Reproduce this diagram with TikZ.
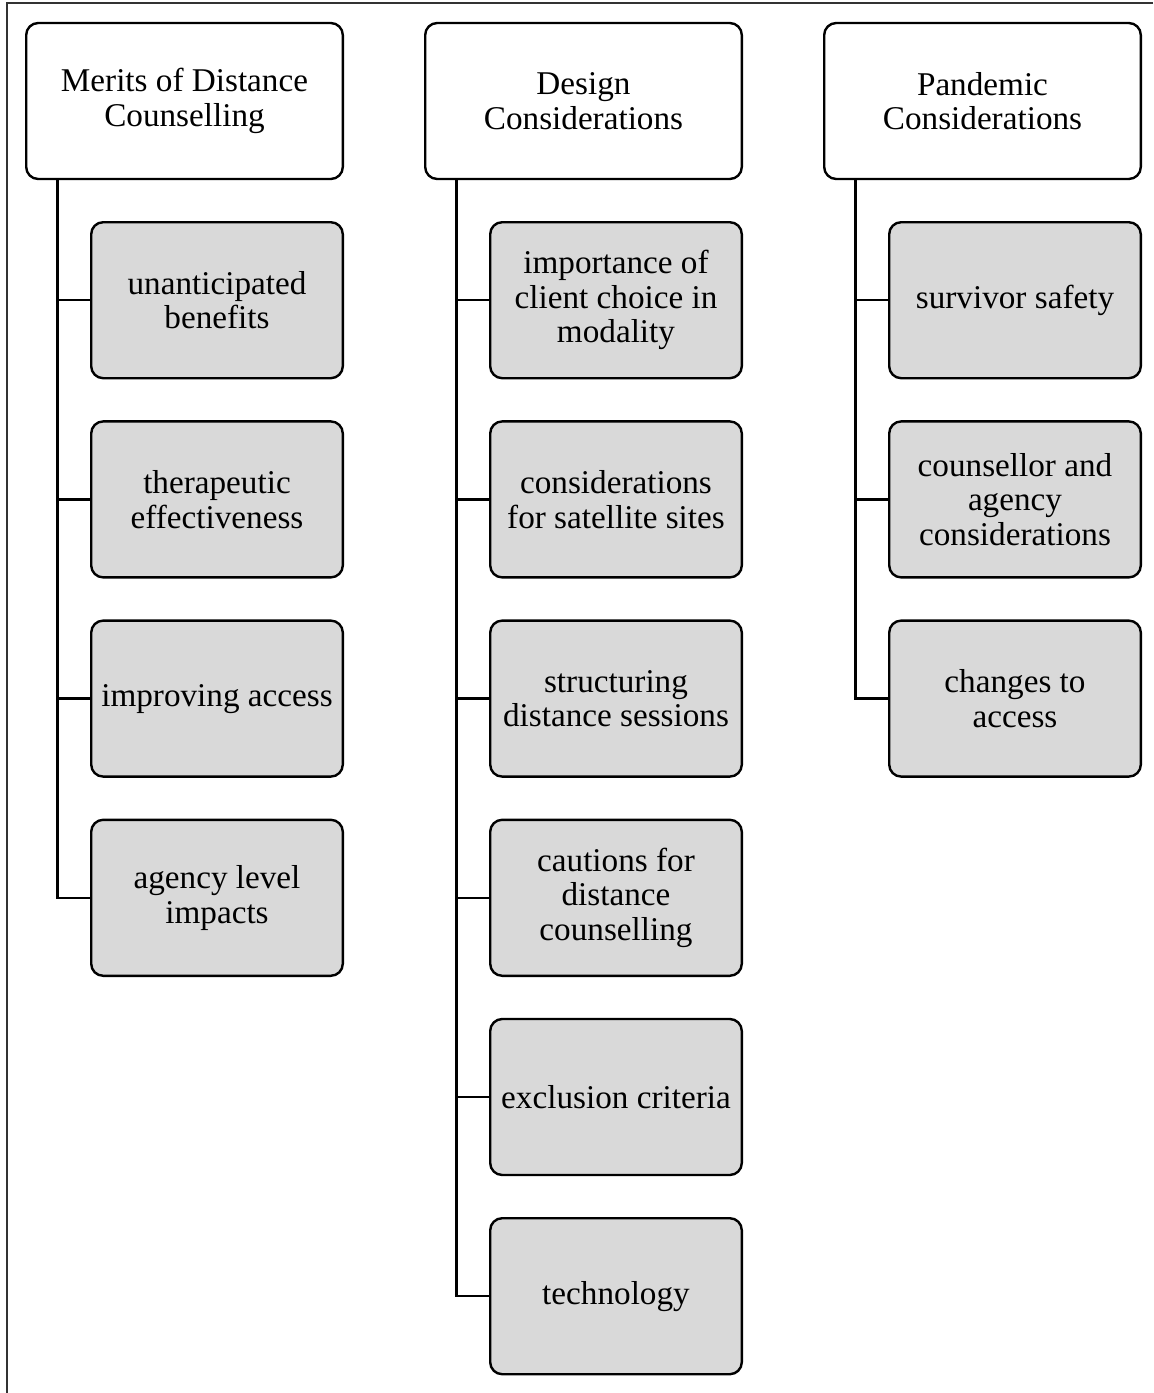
\documentclass[tikz,border=0pt]{standalone}
\usepackage{fontspec}
\setmainfont{Liberation Serif}
\usetikzlibrary{positioning,calc}
\tikzset{
	head/.style={
		rectangle,
		rounded corners=6pt,
		line width=1.2pt,
		draw=black,
		fill=white,
		minimum width=158.3pt,
		minimum height=78pt,
		inner sep=2pt,
		align=center,
		font=\fontsize{16.6}{17.3}\selectfont,
	},
	sub/.style={
		head,
		fill=black!15,
		minimum width=125.8pt,
	},
	branch/.style={
		line width=1.2pt,
		draw=black,
	},
	frame/.style={
		line width=0.9pt,
		draw=black!80,
	},
}

\begin{document}
\begin{tikzpicture}[x=0.5pt, y=-0.5pt, node distance=20.4pt]
				\useasboundingbox (0,0) rectangle (1153,1393);
				% frame
				\draw[frame] (1153,3) -- (7,3) -- (7,1393);

				% nodes
				\node [head] (merits) at (184.5,101) {Merits of Distance\\Counselling};
				\node [head] (design) at (583.5,101) {Design\\Considerations};
				\node [head] (pandemic) at (982.5,101) {Pandemic\\Considerations};

				\node [sub] (m1) [below=of merits, xshift=16.25pt] {unanticipated\\benefits};
				\node [sub] (m2) [below=of m1] {therapeutic\\effectiveness};
				\node [sub] (m3) [below=of m2] {improving access};
				\node [sub] (m4) [below=of m3] {agency level\\impacts};

				\node [sub] (d1) [below=of design, xshift=16.25pt] {importance of\\client choice in\\modality};
				\node [sub] (d2) [below=of d1] {considerations\\for satellite sites};
				\node [sub] (d3) [below=of d2] {structuring\\distance sessions};
				\node [sub] (d4) [below=of d3] {cautions for\\distance\\counselling};
				\node [sub] (d5) [below=of d4] {exclusion criteria};
				\node [sub] (d6) [below=of d5] {technology};

				\node [sub] (p1) [below=of pandemic, xshift=16.25pt] {survivor safety};
				\node [sub] (p2) [below=of p1] {counsellor and\\agency\\considerations};
				\node [sub] (p3) [below=of p2] {changes to\\access};

				\coordinate (merits-stem) at ([xshift=16.25pt]merits.south west);
				\coordinate (design-stem) at ([xshift=16.25pt]design.south west);
				\coordinate (pandemic-stem) at ([xshift=16.25pt]pandemic.south west);

				%branches
				\draw[branch] (merits-stem) |- (m4.west);
				\foreach \n in {m1,m2,m3}
					\draw[branch] (\n.west) -- (\n.west -| merits-stem);
				\draw[branch] (design-stem) |- (d6.west);
				\foreach \n in {d1,d2,d3,d4,d5}
					\draw[branch] (\n.west) -- (\n.west -| design-stem);
				\draw[branch] (pandemic-stem) |- (p3.west);
				\foreach \n in {p1,p2}
					\draw[branch] (\n.west) -- (\n.west -| pandemic-stem);
			\end{tikzpicture}
\end{document}
